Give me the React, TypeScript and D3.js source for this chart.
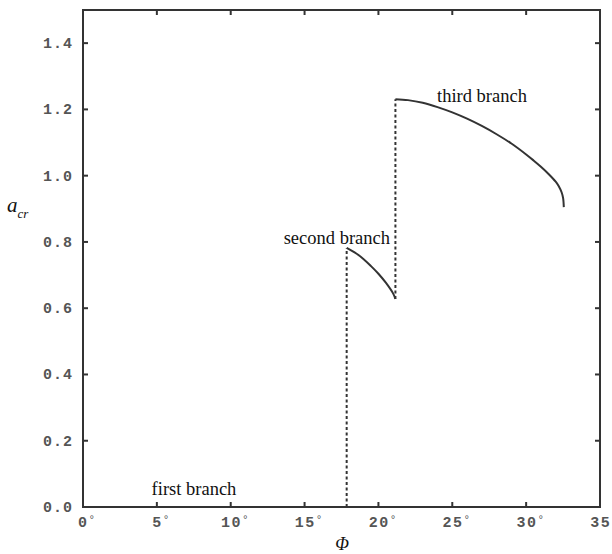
import React, { useRef, useEffect } from 'react';
import * as d3 from 'd3';

// critical amplitude vs friction angle
const branch1X = [0, 17.85];
const branch1Y = [0, 0];

const branch2X = [17.85, 18.5, 19, 19.5, 20, 20.5, 21, 21.15];
const branch2Y = [0.782, 0.765, 0.748, 0.727, 0.704, 0.677, 0.644, 0.628];

const branch3X = [21.15, 22, 23, 24, 25, 26, 27, 28, 29, 30, 30.5, 31, 31.5, 32, 32.2, 32.4, 32.5, 32.55];
const branch3Y = [1.231, 1.228, 1.22, 1.207, 1.191, 1.172, 1.15, 1.125, 1.097, 1.064, 1.046, 1.027, 1.006, 0.982, 0.969, 0.95, 0.933, 0.905];

const xTicks = [0, 5, 10, 15, 20, 25, 30, 35];
const yTicks = [0, 0.2, 0.4, 0.6, 0.8, 1.0, 1.2, 1.4];

const App = () => {
  const ref = useRef<SVGSVGElement | null>(null);

  useEffect(() => {
    const left = 83, right = 600, top = 10, bottom = 507;
    const ink = '#333';

    const svg = d3.select(ref.current);
    svg.selectAll('*').remove();

    const x = d3.scaleLinear().domain([0, 35]).range([left, right]);
    const y = d3.scaleLinear().domain([0, 1.5]).range([bottom, top]);

    // frame
    svg.append('rect')
      .attr('x', left).attr('y', top)
      .attr('width', right - left).attr('height', bottom - top)
      .attr('fill', 'none').attr('stroke', ink).attr('stroke-width', 2);

    // inward ticks on all four sides
    const tl = 5;
    xTicks.slice(1, -1).forEach((t) => {
      svg.append('line').attr('x1', x(t)).attr('x2', x(t)).attr('y1', bottom).attr('y2', bottom - tl)
        .attr('stroke', ink).attr('stroke-width', 2);
      svg.append('line').attr('x1', x(t)).attr('x2', x(t)).attr('y1', top).attr('y2', top + tl)
        .attr('stroke', ink).attr('stroke-width', 2);
    });
    yTicks.slice(1).forEach((t) => {
      svg.append('line').attr('x1', left).attr('x2', left + tl).attr('y1', y(t)).attr('y2', y(t))
        .attr('stroke', ink).attr('stroke-width', 2);
      svg.append('line').attr('x1', right).attr('x2', right - tl).attr('y1', y(t)).attr('y2', y(t))
        .attr('stroke', ink).attr('stroke-width', 2);
    });

    const mono = '"Liberation Mono", "DejaVu Sans Mono", monospace';

    // y tick labels
    svg.append('g').selectAll('text')
      .data(yTicks)
      .enter().append('text')
      .attr('x', 73)
      .attr('y', (d) => y(d) + 5)
      .attr('text-anchor', 'end')
      .style('font-family', mono)
      .style('font-size', '15px')
      .style('font-weight', 'bold')
      .style('letter-spacing', '1px')
      .attr('fill', '#555')
      .text((d) => d.toFixed(1));

    // x tick labels with degree sign
    const cw = 9;
    xTicks.forEach((t) => {
      const s = String(t);
      const w = s.length * cw + (s.length - 1) * 1.5;
      const txt = svg.append('text')
        .attr('x', t === 0 ? x(t) - 5 : x(t) - w / 2)
        .attr('y', 527)
        .style('font-family', mono)
        .style('font-size', '15px')
        .style('font-weight', 'bold')
        .style('letter-spacing', '1.5px')
        .attr('fill', '#555');
      txt.append('tspan').text(s);
      txt.append('tspan')
        .attr('dy', -4)
        .style('font-size', '11px')
        .style('font-weight', 'normal')
        .text('°');
    });

    const line = d3.line<[number, number]>()
      .x((d) => x(d[0]))
      .y((d) => y(d[1]))
      .curve(d3.curveCatmullRom.alpha(0.5));

    const series = [
      branch1X.map((v, i) => [v, branch1Y[i]] as [number, number]),
      branch2X.map((v, i) => [v, branch2Y[i]] as [number, number]),
      branch3X.map((v, i) => [v, branch3Y[i]] as [number, number]),
    ];

    svg.selectAll('path.branch')
      .data(series)
      .enter().append('path')
      .attr('class', 'branch')
      .attr('d', (d) => line(d))
      .attr('fill', 'none')
      .attr('stroke', ink)
      .attr('stroke-width', 2);

    // dashed jumps between branches
    const jumps: [number, number, number][] = [
      [branch2X[0], 0, branch2Y[0]],
      [branch3X[0], branch2Y[branch2Y.length - 1], branch3Y[0]],
    ];
    jumps.forEach(([xv, y0, y1]) => {
      svg.append('line')
        .attr('x1', x(xv)).attr('x2', x(xv))
        .attr('y1', y(y0)).attr('y2', y(y1))
        .attr('stroke', ink).attr('stroke-width', 2)
        .attr('stroke-dasharray', '3,2.5');
    });

    const serif = '"Liberation Serif", "Times New Roman", serif';
    const lbl = (tx: number, ty: number, s: string, anchor = 'start') =>
      svg.append('text')
        .attr('x', tx).attr('y', ty)
        .attr('text-anchor', anchor)
        .style('font-family', serif)
        .style('font-size', '18.5px')
        .attr('fill', '#111')
        .text(s);

    lbl(194, 495, 'first branch', 'middle');
    lbl(390, 244, 'second branch', 'end');
    lbl(437, 102, 'third branch');

    // axis titles
    svg.append('text')
      .attr('x', 342).attr('y', 550)
      .attr('text-anchor', 'middle')
      .style('font-family', serif)
      .style('font-style', 'italic')
      .style('font-size', '18px')
      .attr('fill', '#111')
      .text('Φ');

    const yt = svg.append('text')
      .attr('x', 7).attr('y', 212)
      .style('font-family', serif)
      .style('font-style', 'italic')
      .style('font-size', '21px')
      .attr('fill', '#111');
    yt.append('tspan').text('a');
    yt.append('tspan').attr('dy', 6).style('font-size', '13px').text('cr');
  }, []);

  return (
    <div style={{ position: 'absolute', left: 0, top: 0 }}>
      <svg ref={ref} width={612} height={554} style={{ display: 'block', background: '#fff' }} />
    </div>
  );
};

export default App;
